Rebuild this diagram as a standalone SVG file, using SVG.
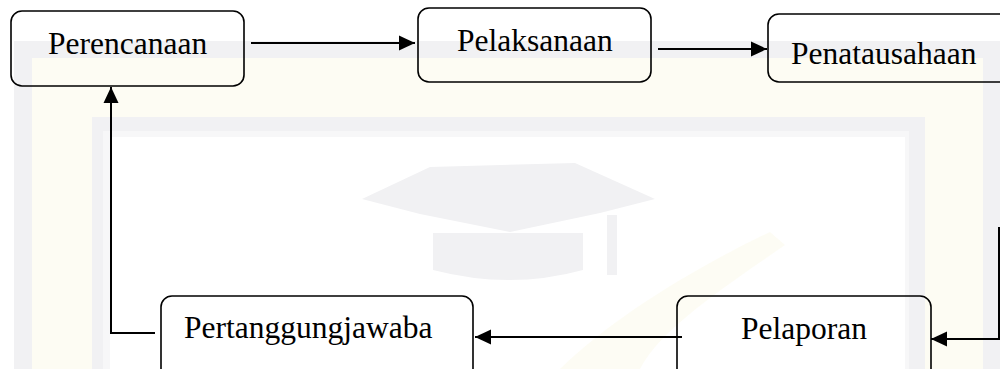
<svg xmlns="http://www.w3.org/2000/svg" width="1000" height="369" viewBox="0 0 1000 369">
  <style>
    .box { fill: none; stroke: #000; stroke-width: 1.6; }
    .lbl { font-family: "Liberation Serif", "Times New Roman", serif; font-size: 31.5px; fill: #000; }
    .conn { fill: none; stroke: #000; stroke-width: 2; }
    .wm-gray { fill: #f1f1f3; }
    .wm-light { fill: #f7f7f8; }
    .wm-yellow { fill: #fdfcf3; }
  </style>
  <defs>
    <marker id="arrow" markerUnits="userSpaceOnUse" markerWidth="17" markerHeight="16" refX="16" refY="8" orient="auto">
      <path d="M0,0.5 L16,8 L0,15.5 Z" fill="#000"/>
    </marker>
  </defs>

  <rect width="1000" height="369" fill="#fff"/>
  <g id="watermark">
    <rect class="wm-gray" x="14" y="41" width="990" height="340"/>
    <rect class="wm-yellow" x="32" y="58" width="951" height="320"/>
    <rect class="wm-gray" x="92" y="117" width="833" height="260"/>
    <rect class="wm-light" x="103" y="131" width="806" height="250"/>
    <rect fill="#fff" x="110" y="137" width="795" height="240"/>
    <path class="wm-yellow" d="M560,369 C610,320 690,270 770,232 L785,245 C720,290 660,330 640,369 Z" opacity="0.9"/>
    <path class="wm-gray" d="M362,199 L430,167 L575,163 L655,199 L600,213 L510,232 L420,214 Z"/>
    <path class="wm-gray" d="M433,233 L583,233 L583,270 Q510,290 433,270 Z"/>
    <rect class="wm-gray" x="607" y="215" width="10" height="60"/>
  </g>

  <g id="connectors">
    <line class="conn" x1="251" y1="43" x2="415" y2="43" marker-end="url(#arrow)"/>
    <line class="conn" x1="658" y1="49" x2="767" y2="49" marker-end="url(#arrow)"/>
    <polyline class="conn" points="999,227 999,339 931,339" marker-end="url(#arrow)"/>
    <line class="conn" x1="682" y1="337" x2="475" y2="337" marker-end="url(#arrow)"/>
    <polyline class="conn" points="155,333 111,333 111,87" marker-end="url(#arrow)"/>
  </g>

  <g id="perencanaan">
    <rect class="box" x="11" y="11" width="233" height="75" rx="11"/>
    <text class="lbl" x="48" y="54">Perencanaan</text>
  </g>
  <g id="pelaksanaan">
    <rect class="box" x="418" y="8" width="233" height="74" rx="11"/>
    <text class="lbl" x="457" y="51">Pelaksanaan</text>
  </g>
  <g id="penatausahaan">
    <rect class="box" x="768" y="14" width="260" height="68" rx="11"/>
    <text class="lbl" x="791" y="64">Penatausahaan</text>
  </g>
  <g id="pelaporan">
    <rect class="box" x="677" y="296" width="254" height="90" rx="11"/>
    <text class="lbl" x="741" y="339">Pelaporan</text>
  </g>
  <g id="pertanggungjawaban">
    <rect class="box" x="161" y="296" width="312" height="90" rx="11"/>
    <text class="lbl" x="184" y="338">Pertanggungjawaba</text>
  </g>
</svg>
